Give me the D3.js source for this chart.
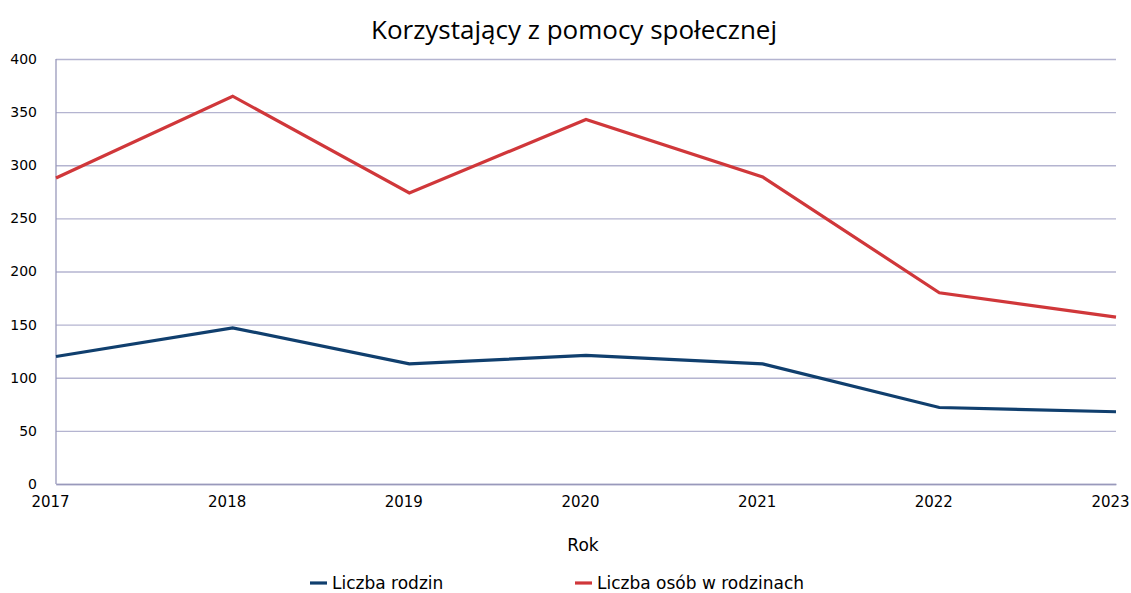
<!DOCTYPE html>
<html><head><meta charset="utf-8">
<script src="https://cdn.jsdelivr.net/npm/d3@7"></script>
<style>body{margin:0;background:#fff}text{font-family:"DejaVu Sans",Verdana,sans-serif}</style>
</head><body><svg id="c" width="1131" height="593"></svg>
<script>
const years = [2017, 2018, 2019, 2020, 2021, 2022, 2023];
const rodzin = [120, 147, 113, 121, 113, 72, 68];
const osob = [288, 365, 274, 343, 289, 180, 157];
const yTicks = [0, 50, 100, 150, 200, 250, 300, 350, 400];
const seriesNames = ["Liczba rodzin", "Liczba osób w rodzinach"];
const colors = ["#103f6e", "#d0373a"];

const svg = d3.select("#c");
const m = {l: 56, r: 1116, t: 59, b: 484};
const x = d3.scalePoint().domain(years).range([m.l, m.r]);
const y = d3.scaleLinear().domain([0, 400]).range([m.b, m.t]);

svg.append("text").attr("x", 574).attr("y", 39).attr("text-anchor", "middle")
  .style("font-size", "26px").style("font-family", "'Open Sans','DejaVu Sans',sans-serif").text("Korzystający z pomocy społecznej");

const ya = svg.append("g").attr("transform", `translate(${m.l},0)`)
  .call(d3.axisLeft(y).tickValues(yTicks).tickSize(-(m.r - m.l)).tickPadding(19));
ya.select(".domain").remove();
ya.selectAll("line").attr("stroke", "#b4b4d0").attr("stroke-width", 1.3);
ya.selectAll("text").style("font-size", "14px").attr("fill", "#000").attr("dy", "0.32em");

svg.append("line").attr("x1", m.l).attr("x2", m.l).attr("y1", m.t).attr("y2", m.b)
  .attr("stroke", "#9999bb").attr("stroke-width", 1.3);

const xa = svg.append("g").attr("transform", `translate(0,${m.b})`)
  .call(d3.axisBottom(x).tickSize(0).tickPadding(12).tickFormat(d => d));
xa.select(".domain").attr("stroke", "#9999bb").attr("stroke-width", 1.3);
xa.selectAll("text").style("font-size", "15px").attr("fill", "#000").attr("dx", -6);

svg.append("text").attr("x", 583).attr("y", 551).attr("text-anchor", "middle")
  .style("font-size", "17px").text("Rok");

const line = d3.line().x((d, i) => x(years[i])).y(d => y(d));
[rodzin, osob].forEach((s, k) => {
  svg.append("path").datum(s).attr("d", line).attr("fill", "none")
    .attr("stroke", colors[k]).attr("stroke-width", 3.2).attr("stroke-linejoin", "miter");
});

const legX = [310, 575];
seriesNames.forEach((n, k) => {
  svg.append("line").attr("x1", legX[k]).attr("x2", legX[k] + 17).attr("y1", 583).attr("y2", 583)
    .attr("stroke", colors[k]).attr("stroke-width", 3.2);
  svg.append("text").attr("x", legX[k] + 22).attr("y", 589).style("font-size", "17px").text(n);
});
</script></body></html>
